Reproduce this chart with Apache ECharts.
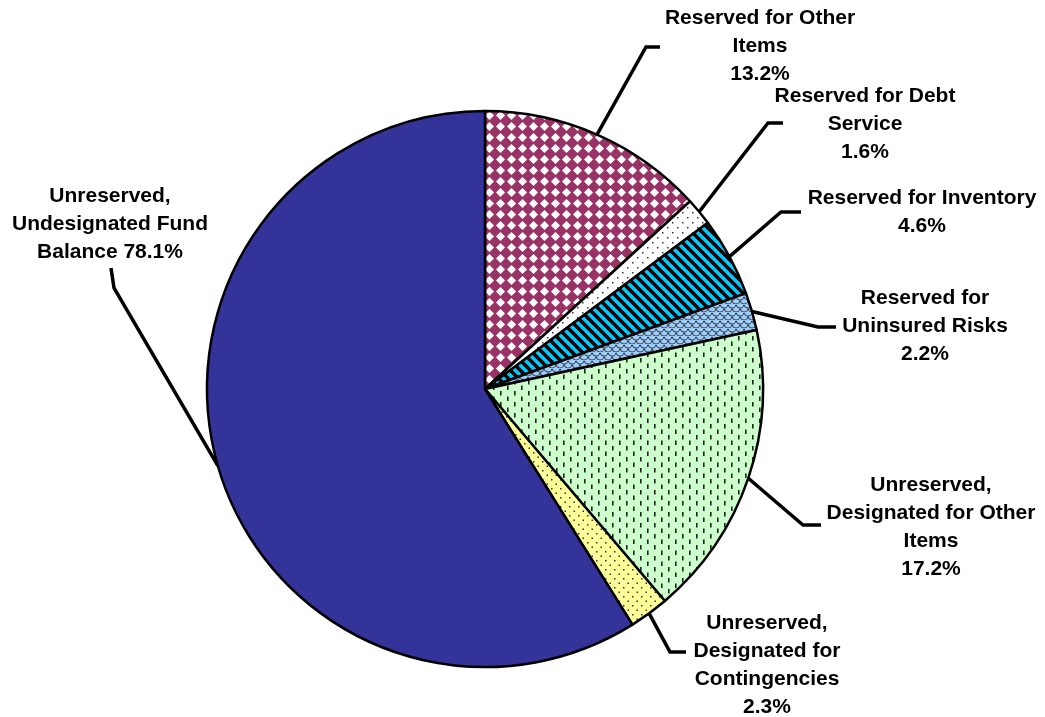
<!DOCTYPE html>
<html>
<head>
<meta charset="utf-8">
<script src="https://cdn.jsdelivr.net/npm/echarts@6/dist/echarts.min.js"></script>
<style>
  html, body { margin: 0; padding: 0; background: #ffffff; }
  #chart { width: 1045px; height: 717px; }
</style>
</head>
<body>
<div id="chart"></div>
<script>
// Fund balance components, clockwise from 12 o'clock
const categories = [
  'Reserved for Other\nItems',
  'Reserved for Debt\nService',
  'Reserved for Inventory',
  'Reserved for\nUninsured Risks',
  'Unreserved,\nDesignated for Other\nItems',
  'Unreserved,\nDesignated for\nContingencies',
  'Unreserved,\nUndesignated Fund\nBalance'
];
// slice shares (percent of total fund balance)
const shares = [13.2, 1.6, 4.6, 2.2, 17.2, 2.3, 58.9];
// percentages as printed in the labels
const statedPct = ['13.2%', '1.6%', '4.6%', '2.2%', '17.2%', '2.3%', '78.1%'];

// ---- fill patterns ----
function tile(w, h, draw) {
  const c = document.createElement('canvas');
  c.width = w; c.height = h;
  draw(c.getContext('2d'), w, h);
  return { image: c, repeat: 'repeat' };
}

const fills = [
  // purple with white diamonds
  tile(11, 11, (g, w, h) => {
    g.fillStyle = '#993366'; g.fillRect(0, 0, w, h);
    g.fillStyle = '#ffffff';
    g.beginPath();
    g.moveTo(5.5, 1.0); g.lineTo(10.0, 5.5); g.lineTo(5.5, 10.0); g.lineTo(1.0, 5.5);
    g.closePath(); g.fill();
  }),
  // white with sparse dots
  tile(10, 10, (g, w, h) => {
    g.fillStyle = '#ffffff'; g.fillRect(0, 0, w, h);
    g.fillStyle = '#333333';
    g.fillRect(2, 2, 1.5, 1.5); g.fillRect(7, 7, 1.5, 1.5);
  }),
  // cyan with heavy downward diagonal stripes
  tile(10, 10, (g, w, h) => {
    g.fillStyle = '#00ccff'; g.fillRect(0, 0, w, h);
    g.strokeStyle = '#000000'; g.lineWidth = 3.6;
    for (let c = -10; c <= 10; c += 10) {
      g.beginPath(); g.moveTo(-2, -2 + c); g.lineTo(12, 12 + c); g.stroke();
    }
  }),
  // light blue with shingle scales
  tile(8, 8, (g, w, h) => {
    g.fillStyle = '#99ccff'; g.fillRect(0, 0, w, h);
    g.strokeStyle = '#333333'; g.lineWidth = 1;
    const arcs = [[4, 0], [0, 4], [8, 4], [4, 8]];
    arcs.forEach(([cx, cy]) => {
      g.beginPath(); g.arc(cx, cy, 4, 0.15, Math.PI - 0.15); g.stroke();
    });
  }),
  // light green with short vertical dashes
  tile(14, 11, (g, w, h) => {
    g.fillStyle = '#ccffcc'; g.fillRect(0, 0, w, h);
    g.fillStyle = '#222222';
    g.fillRect(3, 0.5, 1.6, 4.5);
    g.fillRect(10, 6, 1.6, 4.5);
  }),
  // light yellow with dots
  tile(9, 9, (g, w, h) => {
    g.fillStyle = '#ffff99'; g.fillRect(0, 0, w, h);
    g.fillStyle = '#333333';
    g.fillRect(2, 2, 1.5, 1.5); g.fillRect(6.5, 6.5, 1.5, 1.5);
  }),
  // solid navy
  '#333399'
];

// label block centres and leader-line bends
const labelPlacement = [
  { x: 760, y: 46,  elbow: [646, 47],  end: [660, 47] },
  { x: 865, y: 124, elbow: [768, 123], end: [783, 123] },
  { x: 922, y: 212, elbow: [781, 212], end: [801, 212] },
  { x: 925, y: 326, elbow: [818, 327], end: [836, 327] },
  { x: 931, y: 527, elbow: [803, 525], end: [821, 525] },
  { x: 767, y: 665, elbow: [670, 652], end: [686, 652] },
  { x: 110, y: 224, elbow: [114, 288], end: [111, 268] }
];

const chart = echarts.init(document.getElementById('chart'), null, { renderer: 'canvas' });

chart.setOption({
  animation: false,
  backgroundColor: '#ffffff',
  series: [{
    type: 'pie',
    center: [485, 389],
    radius: 278,
    startAngle: 90,
    clockwise: true,
    silent: true,
    avoidLabelOverlap: false,
    data: categories.map((name, i) => ({
      name: name,
      value: shares[i],
      itemStyle: { color: fills[i] }
    })),
    itemStyle: { borderColor: '#000000', borderWidth: 2.5 },
    label: {
      show: true,
      position: 'outside',
      color: '#000000',
      fontFamily: 'Liberation Sans, Arial, sans-serif',
      fontWeight: 'bold',
      fontSize: 21,
      lineHeight: 28,
      align: 'center',
      formatter: (p) => {
        const sep = p.dataIndex === categories.length - 1 ? ' ' : '\n';
        return p.name + sep + statedPct[p.dataIndex];
      }
    },
    labelLine: {
      show: true,
      length: 20,
      length2: 10,
      smooth: false,
      lineStyle: { color: '#000000', width: 3.5 }
    },
    labelLayout: (p) => {
      const L = labelPlacement[p.dataIndex];
      const out = { x: L.x, y: L.y, align: 'center', verticalAlign: 'middle' };
      if (p.labelLinePoints && p.labelLinePoints.length) {
        out.labelLinePoints = [p.labelLinePoints[0], L.elbow, L.end];
      }
      return out;
    }
  }]
});
</script>
</body>
</html>
